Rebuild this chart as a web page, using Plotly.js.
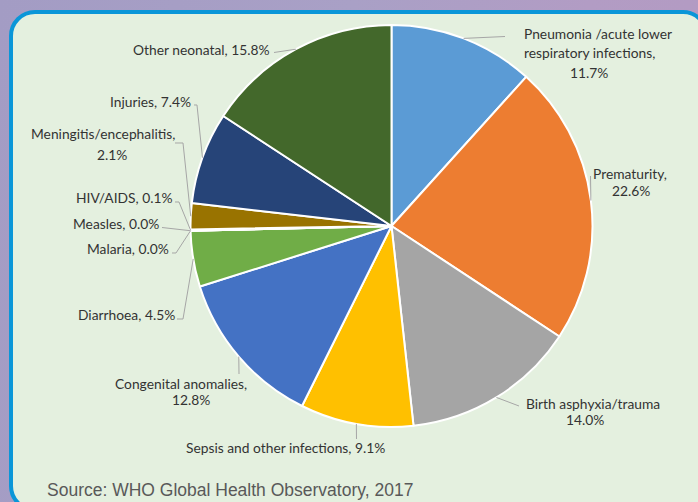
<!DOCTYPE html>
<html>
<head>
<meta charset="utf-8">
<script src="https://cdn.plot.ly/plotly-3.0.1.min.js"></script>
<style>
  html, body { margin: 0; padding: 0; }
  body {
    width: 698px; height: 502px; overflow: hidden; position: relative;
    background: linear-gradient(100deg, #a39cc4 0%, #a9a0c6 45%, #b29cc4 75%, #b49ac2 100%);
  }
  #panel {
    position: absolute; left: 9px; top: 10px; width: 700px; height: 502px;
    box-sizing: border-box; border: 4px solid #0a96d8; border-radius: 26px;
    background: #e4f0df;
  }
  #chart { position: absolute; left: 0; top: 0; width: 698px; height: 502px; }
</style>
</head>
<body>
<div id="panel"></div>
<div id="chart"></div>
<script>
// ---- data ----
const categories = [
  "Pneumonia /acute lower|respiratory infections",
  "Prematurity",
  "Birth asphyxia/trauma",
  "Sepsis and other infections",
  "Congenital anomalies",
  "Diarrhoea",
  "Malaria",
  "Measles",
  "HIV/AIDS",
  "Meningitis/encephalitis",
  "Injuries",
  "Other neonatal"
];
const values = [11.7, 22.6, 14.0, 9.1, 12.8, 4.5, 0.0, 0.0, 0.1, 2.1, 7.4, 15.8];
const colors = ["#5B9BD5", "#ED7D31", "#A5A5A5", "#FFC000", "#4472C4", "#70AD47",
                "#255E91", "#9E480E", "#636363", "#997300", "#264478", "#43682B"];

// ---- layout (pixels) ----
const W = 698, H = 502;
const CX = 391.5, CY = 226, R = 201;
const X = px => px / W;
const Y = py => 1 - py / H;

// label line specs: [x, y, anchor, part]; part = name line index or 'v' (value) or 'all'
const labelSpec = [
  {lines: [[522, 34, "left", 0], [522, 52, "left", 1], [589, 73, "center", "v"]], tail: [[505, 36.5]]},
  {lines: [[591, 173, "left", 0], [631, 190, "center", "v"]], tail: [[590.5, 176]]},
  {lines: [[524, 403, "left", 0], [585, 419, "center", "v"]], tail: [[519, 406]], noComma: true},
  {lines: [[285.5, 447, "center", "all"]], tail: [[356.5, 439]]},
  {lines: [[180.5, 383, "center", 0], [190.5, 399, "center", "v"]], tail: [[239, 374]]},
  {lines: [[177, 314, "right", "all"]], tail: [[177, 319], [183, 319]]},
  {lines: [[171, 248, "right", "all"]], tail: [[172, 253], [176, 253]]},
  {lines: [[161, 223, "right", "all"]], tail: [[162, 227.5]]},
  {lines: [[174, 197, "right", "all"]], tail: [[175, 202], [179, 202]]},
  {lines: [[177, 133, "right", 0], [111.5, 155, "center", "v"]], tail: [[175, 143], [183, 143]]},
  {lines: [[193, 101, "right", "all"]], tail: [[194, 105], [197, 105]]},
  {lines: [[272, 49, "right", "all"]], tail: [[274, 52.5]]}
];

const total = values.reduce((a, b) => a + b, 0);
const annotations = [];
const shapes = [];
const labelFont = {family: "Lato, 'Open Sans', sans-serif", size: 13.8, color: "#333333"};

let cum = 0;
categories.forEach((cat, i) => {
  const v = values[i];
  const mid = (cum + v / 2) / total * 2 * Math.PI;
  cum += v;
  const ex = CX + R * Math.sin(mid), ey = CY - R * Math.cos(mid);
  const nameLines = cat.split("|");
  const valTxt = v.toFixed(1) + "%";
  const spec = labelSpec[i];
  const hasValLine = spec.lines.some(l => l[3] === "v");
  spec.lines.forEach(l => {
    let t;
    if (l[3] === "all") t = nameLines.join(" ") + ", " + valTxt;
    else if (l[3] === "v") t = valTxt;
    else {
      t = nameLines[l[3]];
      if (hasValLine && l[3] === nameLines.length - 1 && !spec.noComma) t += ",";
    }
    annotations.push({
      text: t, showarrow: false, xref: "paper", yref: "paper",
      x: X(l[0]), y: Y(l[1]), xanchor: l[2], yanchor: "middle", font: labelFont
    });
  });
  const pts = spec.tail.concat([[ex, ey]]);
  const path = pts.map((p, k) => (k ? "L" : "M") + X(p[0]).toFixed(5) + "," + Y(p[1]).toFixed(5)).join(" ");
  shapes.push({type: "path", xref: "paper", yref: "paper", path: path,
               line: {color: "#a6a6a6", width: 1}});
});

annotations.push({
  text: "Source: WHO Global Health Observatory, 2017", showarrow: false,
  xref: "paper", yref: "paper", x: X(45), y: Y(490), xanchor: "left", yanchor: "middle",
  font: {family: "'Liberation Sans', Arial, sans-serif", size: 17.5, color: "#595959"}
});

const trace = {
  type: "pie",
  labels: categories.map(c => c.replace("|", " ")),
  values: values,
  marker: {colors: colors, line: {color: "#ffffff", width: 2}},
  sort: false,
  direction: "clockwise",
  rotation: 0,
  textinfo: "none",
  hoverinfo: "none",
  showlegend: false,
  domain: {x: [X(CX - R), X(CX + R)], y: [Y(CY + R), Y(CY - R)]}
};

Plotly.newPlot("chart", [trace], {
  width: W, height: H,
  margin: {l: 0, r: 0, t: 0, b: 0},
  paper_bgcolor: "rgba(0,0,0,0)",
  plot_bgcolor: "rgba(0,0,0,0)",
  showlegend: false,
  annotations: annotations,
  shapes: shapes
}, {staticPlot: true});
</script>
</body>
</html>
